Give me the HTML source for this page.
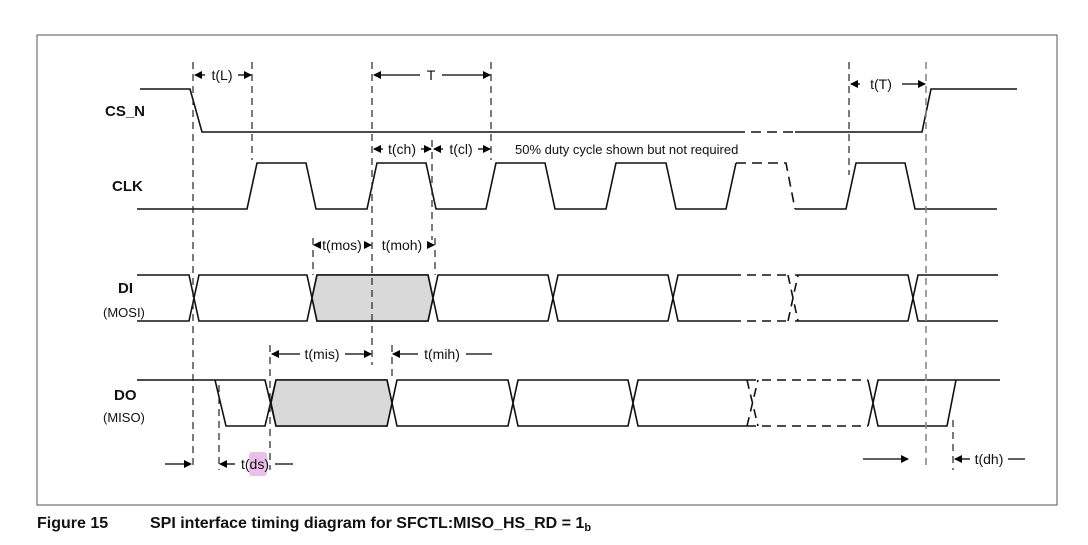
<!DOCTYPE html>
<html><head><meta charset="utf-8"><style>
body{margin:0;background:#fff;width:1088px;height:545px;overflow:hidden;font-family:"Liberation Sans",sans-serif}
svg{position:absolute;left:0;top:0}
text{font-family:"Liberation Sans",sans-serif}
</style></head><body>
<svg width="1088" height="545">
<defs>
<marker id="ah" markerWidth="8" markerHeight="8" refX="7" refY="4" orient="auto" markerUnits="userSpaceOnUse"><path d="M0,0 L8,4 L0,8 z" fill="#000"/></marker>
</defs>
<rect x="37" y="35" width="1020" height="470" fill="none" stroke="#555" stroke-width="1"/>
<g fill="none" stroke="#111" stroke-width="1.6" id="waves">
<path d="M140,89 H190 L202,132 H735 M795,132 H922 L931,89 H1017"/>
<path d="M735,132 H795" stroke-dasharray="10,6"/>
<path d="M137,209 H247 L257,163 H306 L316,209 H367 L377,163 H426 L436,209 H486 L496,163 H545 L555,209 H606 L616,163 H666 L676,209 H726 L736,163 M795,209 H846 L856,163 H905 L915,209 H997"/>
<path d="M736,163 H786 L795,209" stroke-dasharray="10,6"/>
<path d="M137,275 H189 L199,321 H307 L317,275 H428 L438,321 H548 L558,275 H668 L678,321 H732 M137,321 H189 L199,275 H307 L317,321 H428 L438,275 H548 L558,321 H668 L678,275 H732 M795,275 H908 L918,321 H998 M795,321 H908 L918,275 H998"/>
<path d="M732,275 H788 M732,321 H788 M788,321 L798,275 M788,275 L798,321" stroke-dasharray="9,6"/>
<path d="M137,380 H265 L276,426 H387 L397,380 H508 L518,426 H628 L638,380 H747 M215,380 L226,426 H265 L276,380 H387 L397,426 H508 L518,380 H628 L638,426 H747 M868,380 L878,426 H947 L956,380 M868,426 L878,380 H1000"/>
<path d="M747,380 H868 M747,426 H868 M747,426 L758,380 M747,380 L758,426" stroke-dasharray="9,6"/>
</g>
<polygon points="317,275 428,275 433,298 428,321 317,321 312,298" fill="#d9d9d9" stroke="#111" stroke-width="1.6"/>
<polygon points="276,380 387,380 392,403 387,426 276,426 271,403" fill="#d9d9d9" stroke="#111" stroke-width="1.6"/>
<g stroke="#222" stroke-width="1.2" stroke-dasharray="7,5">
<line x1="193" y1="62" x2="193" y2="470"/>
<line x1="252" y1="62" x2="252" y2="160"/>
<line x1="372" y1="62" x2="372" y2="365"/>
<line x1="491" y1="62" x2="491" y2="160"/>
<line x1="432" y1="140" x2="432" y2="240"/>
<line x1="313" y1="238" x2="313" y2="275"/>
<line x1="435" y1="238" x2="435" y2="275"/>
<line x1="849" y1="62" x2="849" y2="175"/>
<line x1="270" y1="345" x2="270" y2="470"/>
<line x1="219" y1="385" x2="219" y2="470"/>
<line x1="392" y1="345" x2="392" y2="380"/>
<line x1="953" y1="420" x2="953" y2="470"/>
<line x1="926" y1="62" x2="926" y2="470" stroke="#888" stroke-width="1.6"/>
</g>
<g stroke="#000" stroke-width="1.3" fill="none">
<line x1="205" y1="75" x2="195" y2="75" marker-end="url(#ah)"/><line x1="238" y1="75" x2="251" y2="75" marker-end="url(#ah)"/>
<line x1="420" y1="75" x2="374" y2="75" marker-end="url(#ah)"/><line x1="442" y1="75" x2="490" y2="75" marker-end="url(#ah)"/>
<line x1="383" y1="149" x2="374" y2="149" marker-end="url(#ah)"/><line x1="421" y1="149" x2="431" y2="149" marker-end="url(#ah)"/>
<line x1="443" y1="149" x2="434" y2="149" marker-end="url(#ah)"/><line x1="478" y1="149" x2="490" y2="149" marker-end="url(#ah)"/>
<line x1="860" y1="84" x2="851" y2="84" marker-end="url(#ah)"/><line x1="902" y1="84" x2="925" y2="84" marker-end="url(#ah)"/>
<line x1="320" y1="245" x2="314" y2="245" marker-end="url(#ah)"/><line x1="365" y1="245" x2="371" y2="245" marker-end="url(#ah)"/>
<line x1="429" y1="245" x2="434" y2="245" marker-end="url(#ah)"/>
<line x1="300" y1="354" x2="272" y2="354" marker-end="url(#ah)"/><line x1="345" y1="354" x2="371" y2="354" marker-end="url(#ah)"/>
<line x1="418" y1="354" x2="393" y2="354" marker-end="url(#ah)"/><line x1="466" y1="354" x2="492" y2="354"/>
<line x1="235" y1="464" x2="220" y2="464" marker-end="url(#ah)"/><line x1="275" y1="464" x2="293" y2="464"/>
<line x1="165" y1="464" x2="191" y2="464" marker-end="url(#ah)"/>
<line x1="863" y1="459" x2="908" y2="459" marker-end="url(#ah)"/>
<line x1="970" y1="459" x2="955" y2="459" marker-end="url(#ah)"/><line x1="1008" y1="459" x2="1025" y2="459"/>
</g>
<rect x="249" y="452" width="18" height="24" rx="3" fill="#eabfea"/>
<g font-size="14" fill="#111">
<text x="222" y="80" text-anchor="middle">t(L)</text>
<text x="431" y="80" text-anchor="middle">T</text>
<text x="402" y="154" text-anchor="middle">t(ch)</text>
<text x="461" y="154" text-anchor="middle">t(cl)</text>
<text x="515" y="154" font-size="13">50% duty cycle shown but not required</text>
<text x="881" y="89" text-anchor="middle">t(T)</text>
<text x="342" y="250" text-anchor="middle">t(mos)</text>
<text x="402" y="250" text-anchor="middle">t(moh)</text>
<text x="322" y="359" text-anchor="middle">t(mis)</text>
<text x="442" y="359" text-anchor="middle">t(mih)</text>
<text x="255" y="469" text-anchor="middle">t(ds)</text>
<text x="989" y="464" text-anchor="middle">t(dh)</text>
</g>
<g font-size="15" font-weight="bold" fill="#111">
<text x="105" y="116">CS_N</text>
<text x="112" y="191">CLK</text>
<text x="118" y="293">DI</text>
<text x="114" y="400">DO</text>
</g>
<g font-size="13" fill="#111">
<text x="103" y="317">(MOSI)</text>
<text x="103" y="422">(MISO)</text>
</g>
<text x="37" y="528" font-size="16" font-weight="bold" fill="#111">Figure 15</text>
<text x="150" y="528" font-size="16" font-weight="bold" fill="#111">SPI interface timing diagram for SFCTL:MISO_HS_RD = 1<tspan font-size="11" dy="3">b</tspan></text>
</svg>
</body></html>
